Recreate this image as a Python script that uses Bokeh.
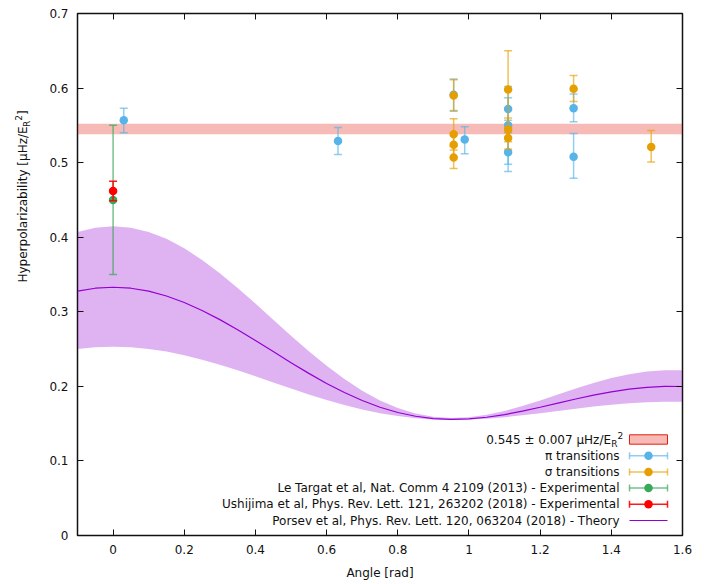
import math
from bokeh.plotting import figure
from bokeh.layouts import row
from bokeh.models import (Range1d, FixedTicker, CustomJSTickFormatter, LinearAxis,
                          Label, BoxAnnotation)
from bokeh.embed import file_html
from bokeh.resources import INLINE

# ---------------- data ----------------
theta = [-0.10, -0.05, 0.00, 0.05, 0.10, 0.15, 0.20, 0.25, 0.30, 0.35, 0.40, 0.45,
         0.50, 0.55, 0.60, 0.65, 0.70, 0.75, 0.80, 0.85, 0.90, 0.95, 1.00, 1.05,
         1.10, 1.15, 1.20, 1.25, 1.30, 1.35, 1.40, 1.45, 1.50, 1.55, 1.60]
theory = [0.3276, 0.3316, 0.3329, 0.3316, 0.3276, 0.3212, 0.3125, 0.3018, 0.2895,
          0.2759, 0.2614, 0.2466, 0.2318, 0.2174, 0.2039, 0.1917, 0.1810, 0.1720,
          0.1649, 0.1599, 0.1568, 0.1557, 0.1564, 0.1586, 0.1622, 0.1667, 0.1720,
          0.1775, 0.1830, 0.1882, 0.1927, 0.1962, 0.1987, 0.1999, 0.1998]
theory_hi = [0.4070, 0.4128, 0.4147, 0.4128, 0.4070, 0.3978, 0.3851, 0.3696, 0.3518,
             0.3319, 0.3110, 0.2894, 0.2679, 0.2471, 0.2275, 0.2097, 0.1942, 0.1811,
             0.1709, 0.1636, 0.1591, 0.1575, 0.1585, 0.1618, 0.1669, 0.1735, 0.1811,
             0.1892, 0.1972, 0.2046, 0.2111, 0.2163, 0.2199, 0.2216, 0.2215]
theory_lo = [0.2501, 0.2523, 0.2530, 0.2523, 0.2501, 0.2466, 0.2417, 0.2358, 0.2290,
             0.2215, 0.2135, 0.2053, 0.1971, 0.1891, 0.1817, 0.1749, 0.1690, 0.1640,
             0.1601, 0.1573, 0.1556, 0.1550, 0.1554, 0.1566, 0.1586, 0.1611, 0.1640,
             0.1671, 0.1701, 0.1730, 0.1754, 0.1774, 0.1788, 0.1794, 0.1794]

pi_x = [0.030, 0.632, 0.957, 0.988, 1.110, 1.110, 1.110, 1.294, 1.294]
pi_y = [0.557, 0.529, 0.591, 0.531, 0.572, 0.550, 0.514, 0.573, 0.508]
pi_lo = [0.540, 0.511, 0.569, 0.512, 0.557, 0.498, 0.488, 0.555, 0.479]
pi_hi = [0.573, 0.547, 0.612, 0.548, 0.587, 0.602, 0.540, 0.592, 0.539]

sig_x = [0.957, 0.957, 0.957, 0.957, 1.110, 1.110, 1.110, 1.294, 1.512]
sig_y = [0.590, 0.538, 0.524, 0.507, 0.598, 0.544, 0.533, 0.599, 0.521]
sig_lo = [0.570, 0.517, 0.508, 0.492, 0.546, 0.528, 0.518, 0.582, 0.501]
sig_hi = [0.611, 0.559, 0.540, 0.522, 0.650, 0.560, 0.548, 0.617, 0.543]

lt_x = [0.0]
lt_y = [0.450]
lt_lo = [0.350]
lt_hi = [0.550]

us_x = [0.0]
us_y = [0.462]
us_lo = [0.449]
us_hi = [0.475]

band_value = 0.545
band_err = 0.007

x_ticks = [0, 0.2, 0.4, 0.6, 0.8, 1.0, 1.2, 1.4, 1.6]
y_ticks = [0, 0.1, 0.2, 0.3, 0.4, 0.5, 0.6, 0.7]
X0, X1 = -0.1, 1.6
Y0, Y1 = 0.0, 0.7

legend_labels = ["π transitions", "σ transitions",
                 "Le Targat et al, Nat. Comm 4 2109 (2013) - Experimental",
                 "Ushijima et al, Phys. Rev. Lett. 121, 263202 (2018) - Experimental",
                 "Porsev et al, Phys. Rev. Lett. 120, 063204 (2018) - Theory"]

# ---------------- styling ----------------
BLUE = "#56b4e9"
ORANGE = "#e69f00"
GREEN = "#3aa85a"
RED = "#ff0000"
PURPLE = "#9400d3"
PINK = "#e51e10"
FONT = "DejaVu Sans"

W, H = 704, 584
LW = 40  # width of the strip that holds the rotated y-axis title
# frame position in page pixels
FL, FR, FT, FB = 77, 682, 13, 535


def dx(px):
    return X0 + (px - FL) / (FR - FL) * (X1 - X0)


def dy(py):
    return Y0 + (FB - py) / (FB - FT) * (Y1 - Y0)


p = figure(width=W - LW, height=H, output_backend="svg", toolbar_location=None,
           x_range=Range1d(X0, X1), y_range=Range1d(Y0, Y1),
           min_border_left=FL - LW, min_border_right=W - FR,
           min_border_top=FT, min_border_bottom=H - FB)
p.grid.visible = False
p.outline_line_color = "#111111"
p.outline_line_alpha = 1.0
p.outline_line_width = 1.5
p.background_fill_color = "white"
p.border_fill_color = "white"

fmt = CustomJSTickFormatter(code="return Number(tick.toFixed(1)).toString();")
for ax, ticks in ((p.xaxis[0], x_ticks), (p.yaxis[0], y_ticks)):
    ax.ticker = FixedTicker(ticks=ticks)
    ax.formatter = fmt
    ax.axis_line_color = None
    ax.major_tick_in = 6
    ax.major_tick_out = 0
    ax.minor_tick_in = 0
    ax.minor_tick_out = 0
    ax.major_tick_line_color = "#111111"
    ax.major_label_text_font = FONT
    ax.major_label_text_font_size = "12px"
    ax.major_label_text_color = "#111111"
    ax.major_label_standoff = 9

p.xaxis.axis_label = "Angle [rad]"
p.xaxis.axis_label_text_font = FONT
p.xaxis.axis_label_text_font_size = "12px"
p.xaxis.axis_label_text_font_style = "normal"
p.xaxis.axis_label_text_color = "#111111"
p.xaxis.axis_label_standoff = 9

empty = CustomJSTickFormatter(code="return '';")
for loc, ticks in (("right", y_ticks), ("above", x_ticks)):
    ax = LinearAxis(ticker=FixedTicker(ticks=ticks), formatter=empty,
                    major_label_text_font_size="0px", major_label_standoff=0,
                    major_tick_in=6, major_tick_out=0, minor_tick_in=0, minor_tick_out=0,
                    axis_line_color=None, major_tick_line_color="#111111")
    p.add_layout(ax, loc)

# ---------------- marks ----------------
p.varea(x=theta, y1=theory_lo, y2=theory_hi, fill_color=PURPLE, fill_alpha=0.3)
p.add_layout(BoxAnnotation(bottom=band_value - band_err, top=band_value + band_err,
                           fill_color=PINK, fill_alpha=0.3, line_color=None,
                           level="underlay"))


def errpoints(xs, ys, lo, hi, color, bar_alpha=0.65):
    p.segment(x0=xs, y0=lo, x1=xs, y1=hi, line_color=color, line_alpha=bar_alpha,
              line_width=1.5)
    p.scatter(xs, lo, marker="dash", size=8, line_color=color, line_alpha=bar_alpha,
              line_width=1.5)
    p.scatter(xs, hi, marker="dash", size=8, line_color=color, line_alpha=bar_alpha,
              line_width=1.5)
    p.scatter(xs, ys, marker="circle", size=8.5, fill_color=color, line_color=None)


errpoints(pi_x, pi_y, pi_lo, pi_hi, BLUE)
errpoints(sig_x, sig_y, sig_lo, sig_hi, ORANGE)
errpoints(lt_x, lt_y, lt_lo, lt_hi, GREEN, 0.7)
errpoints(us_x, us_y, us_lo, us_hi, RED, 0.9)
p.line(theta, theory, line_color=PURPLE, line_width=1.2)

# ---------------- legend (manual, text left / sample right) ----------------
rows = [439, 455.2, 471.4, 487.6, 503.8, 520]
TX = 619
SX0, SX1, SXC = 629, 667, 648


def label(px, py, text, size="12px", align="right", angle=0.0):
    p.add_layout(Label(x=dx(px), y=dy(py), text=text, text_align=align,
                       text_baseline="middle", text_font=FONT, text_font_size=size,
                       text_color="#111111", angle=angle))


# row 0: band
label(610.5, rows[0], "0.545 ± 0.007 μHz/E")
label(610.8, rows[0] + 4, "R", size="9px", align="left")
label(617.0, rows[0] - 4.5, "2", size="9px", align="left")
p.quad(left=[dx(SX0)], right=[dx(SX1)], top=[dy(rows[0] - 4.7)], bottom=[dy(rows[0] + 4.7)],
       fill_color=PINK, fill_alpha=0.3, line_color=PINK, line_width=1)

for i, (color, a) in enumerate(((BLUE, 0.65), (ORANGE, 0.65), (GREEN, 0.7), (RED, 0.9))):
    r = rows[i + 1]
    label(TX, r, legend_labels[i])
    p.segment(x0=[dx(SX0)], y0=[dy(r)], x1=[dx(SX1)], y1=[dy(r)], line_color=color,
              line_alpha=a, line_width=1.5)
    p.segment(x0=[dx(SX0), dx(SX1)], y0=[dy(r - 3.5)] * 2, x1=[dx(SX0), dx(SX1)],
              y1=[dy(r + 3.5)] * 2, line_color=color, line_alpha=a, line_width=1.5)
    p.scatter([dx(SXC)], [dy(r)], marker="circle", size=8.5, fill_color=color,
              line_color=None)

label(TX, rows[5], legend_labels[4])
p.line([dx(SX0), dx(SX1)], [dy(rows[5])] * 2, line_color=PURPLE, line_width=1.2)

# ---------------- y axis title strip (rotated, with sub/superscript) ----------------
lf = figure(width=LW, height=H, output_backend="svg", toolbar_location=None,
            x_axis_type=None, y_axis_type=None, min_border=0,
            x_range=Range1d(0, LW), y_range=Range1d(0, H))
lf.grid.visible = False
lf.outline_line_color = None
lf.background_fill_color = "white"
lf.border_fill_color = "white"


def ylabel(px, py, text, size="12px"):
    lf.add_layout(Label(x=px, y=H - py, x_units="screen", y_units="screen", text=text,
                        text_align="left", text_baseline="middle", text_font=FONT,
                        text_font_size=size, text_color="#111111", angle=math.pi / 2))


YLX = 22
y_start = 331
ylabel(YLX, y_start, "Hyperpolarizability [μHz/E")
ylabel(YLX + 4, y_start - 155.5, "R", size="9px")
ylabel(YLX - 4.5, y_start - 161.8, "2", size="9px")
ylabel(YLX, y_start - 167.5, "]")

layout = row(lf, p)
open("out.html", "w").write(file_html(layout, INLINE))
